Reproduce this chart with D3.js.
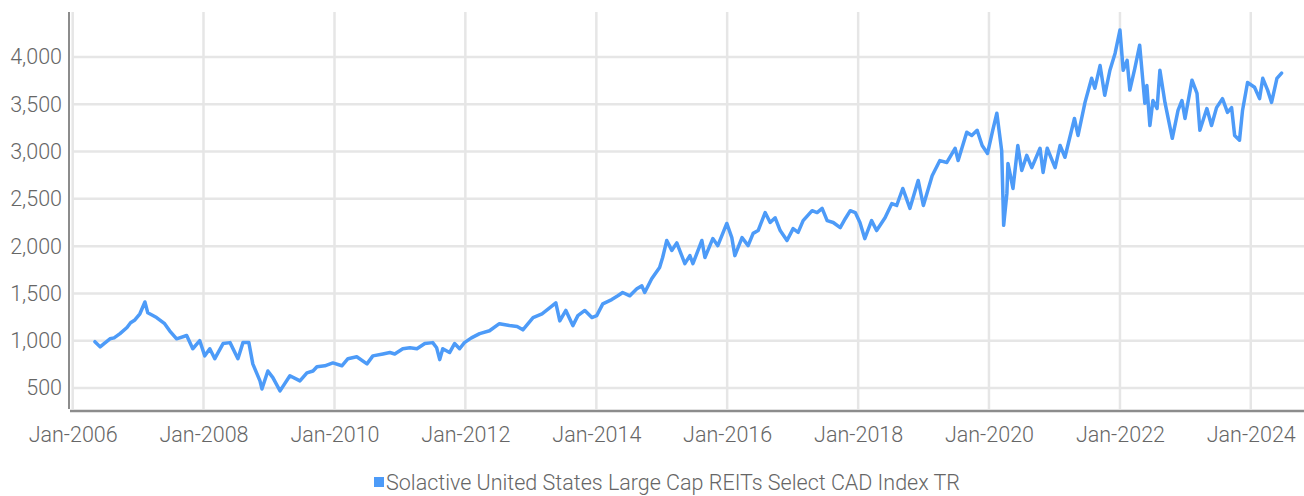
<!DOCTYPE html>
<html>
<head>
<meta charset="utf-8">
<script src="https://cdn.jsdelivr.net/npm/d3@7"></script>
<style>
  body { margin: 0; background: #fff; }
  text { font-family: Roboto, "Noto Sans", sans-serif; font-weight: 300; }
</style>
</head>
<body>
<svg id="chart" width="1304" height="496"></svg>
<script>
// index level
var dates = [
  "2006-05-05","2006-06-03","2006-06-25","2006-07-28","2006-08-20","2006-09-22","2006-10-31","2006-11-20","2006-12-14",
  "2007-01-11","2007-02-08","2007-02-24","2007-04-14","2007-05-29","2007-06-26","2007-08-04","2007-09-29","2007-11-02","2007-12-11",
  "2008-01-08","2008-02-05","2008-03-04","2008-04-19","2008-05-28","2008-07-11","2008-08-08","2008-09-10","2008-10-02","2008-11-11","2008-11-22","2008-12-25",
  "2009-01-22","2009-03-03","2009-04-27","2009-06-22","2009-07-31","2009-09-03","2009-09-25","2009-11-08","2009-12-23",
  "2010-02-11","2010-03-17","2010-05-05","2010-07-01","2010-08-03","2010-09-28","2010-11-06","2010-12-03",
  "2011-01-17","2011-02-26","2011-04-06","2011-05-20","2011-07-03","2011-07-25","2011-08-11","2011-08-28","2011-10-05","2011-11-02","2011-11-30","2011-12-27",
  "2012-02-04","2012-03-21","2012-05-15","2012-07-09","2012-09-03","2012-10-16","2012-11-17",
  "2013-01-13","2013-03-04","2013-04-17","2013-05-20","2013-06-11","2013-07-15","2013-08-23","2013-09-20","2013-10-29","2013-12-07",
  "2014-01-03","2014-02-06","2014-03-28","2014-05-01","2014-05-28","2014-07-07","2014-08-15","2014-09-12","2014-09-28","2014-11-06","2014-12-20",
  "2015-01-06","2015-01-29","2015-02-26","2015-03-26","2015-05-10","2015-06-07","2015-06-24","2015-08-13","2015-08-30","2015-10-13","2015-11-10","2015-12-30",
  "2016-01-27","2016-02-13","2016-03-24","2016-04-27","2016-05-25","2016-06-22","2016-07-31","2016-08-28","2016-09-25","2016-10-23","2016-11-30",
  "2017-01-03","2017-01-31","2017-02-28","2017-04-19","2017-05-17","2017-06-14","2017-07-12","2017-08-15","2017-09-23","2017-10-21","2017-11-18","2017-12-16",
  "2018-01-11","2018-02-07","2018-03-17","2018-04-14","2018-05-31","2018-07-08","2018-08-04","2018-09-07","2018-10-17","2018-12-02","2018-12-31",
  "2019-02-18","2019-04-02","2019-05-11","2019-06-26","2019-07-13","2019-08-30","2019-09-27","2019-10-27","2019-11-24","2019-12-24",
  "2020-01-22","2020-02-14","2020-03-12","2020-03-23","2020-04-10","2020-04-16","2020-05-14","2020-06-10","2020-07-02","2020-07-30","2020-08-27","2020-10-12","2020-10-29","2020-11-21",
  "2021-01-04","2021-02-01","2021-02-28","2021-04-22","2021-05-12","2021-06-20","2021-07-27","2021-08-14","2021-09-12","2021-10-08","2021-11-06","2021-12-05",
  "2022-01-01","2022-01-19","2022-02-10","2022-02-25","2022-03-25","2022-04-21","2022-05-20","2022-05-31","2022-06-17","2022-07-04","2022-07-27","2022-08-12","2022-09-09","2022-10-20","2022-11-21","2022-12-13","2022-12-30",
  "2023-02-07","2023-03-07","2023-03-23","2023-05-01","2023-05-27","2023-06-24","2023-07-27","2023-08-24","2023-09-16","2023-10-03","2023-10-30","2023-11-16","2023-12-14",
  "2024-01-22","2024-02-19","2024-03-08","2024-04-04","2024-04-26","2024-05-26","2024-06-21"
];
var values = [
  990,935,970,1020,1030,1075,1140,1190,1220,
  1285,1410,1295,1245,1180,1105,1020,1055,915,1000,
  840,915,810,970,980,810,980,980,755,575,490,680,
  610,470,630,575,660,680,725,735,765,
  735,810,830,755,840,860,875,860,
  915,925,915,970,980,925,800,915,875,970,915,980,
  1030,1075,1105,1180,1160,1150,1115,
  1245,1285,1350,1400,1210,1320,1160,1265,1320,1245,
  1265,1390,1435,1475,1510,1475,1550,1580,1510,1655,1775,
  1880,2060,1955,2035,1815,1900,1815,2060,1880,2080,2005,2240,
  2090,1900,2090,2005,2135,2165,2355,2250,2300,2165,2060,
  2185,2145,2270,2375,2355,2400,2270,2250,2195,2290,2375,2355,
  2250,2080,2270,2165,2300,2450,2430,2610,2400,2695,2430,
  2745,2905,2885,3035,2905,3205,3170,3225,3065,2980,
  3225,3405,3010,2220,2555,2875,2610,3065,2800,2960,2830,3035,2780,3035,
  2830,3065,2940,3350,3170,3520,3775,3670,3910,3595,3860,4040,
  4285,3860,3965,3650,3880,4125,3510,3700,3275,3540,3455,3860,3520,3140,3435,3540,3350,
  3755,3615,3225,3455,3275,3465,3560,3415,3465,3170,3120,3435,3730,
  3680,3560,3775,3650,3520,3775,3830
];
var yTicks = [500, 1000, 1500, 2000, 2500, 3000, 3500, 4000];
var seriesName = "Solactive United States Large Cap REITs Select CAD Index TR";

var lineColor = "#4d9bf8";
var parse = d3.utcParse("%Y-%m-%d");
var data = dates.map(function(d, i) { return { date: parse(d), value: values[i] }; });

var svg = d3.select("#chart");
var plotLeft = 72.7, plotRight = 1304, plotTop = 12, plotBottom = 409;
var fontSize = 21.5;

var x = d3.scaleUtc()
    .domain([Date.UTC(2006, 0, 1), Date.UTC(2024, 9, 24)])
    .range([plotLeft, plotRight]);
var y = d3.scaleLinear()
    .domain([278, 4476])
    .range([plotBottom, plotTop]);

var xTicks = x.ticks(d3.utcYear.every(2));

// grid
svg.append("g")
    .selectAll("line")
    .data(yTicks)
    .enter().append("line")
      .attr("x1", plotLeft).attr("x2", plotRight)
      .attr("y1", function(d) { return y(d); })
      .attr("y2", function(d) { return y(d); })
      .attr("stroke", "#e6e6e6")
      .attr("stroke-width", 2.5);

svg.append("g")
    .selectAll("line")
    .data(xTicks)
    .enter().append("line")
      .attr("x1", function(d) { return x(d); })
      .attr("x2", function(d) { return x(d); })
      .attr("y1", plotTop).attr("y2", plotBottom)
      .attr("stroke", "#e6e6e6")
      .attr("stroke-width", 2.5);

// axes
var yAxis = svg.append("g")
    .attr("transform", "translate(69,0)")
    .call(d3.axisLeft(y).tickValues(yTicks).tickSize(0).tickPadding(7).tickFormat(d3.format(",")));
yAxis.select(".domain").attr("d", "M0," + plotTop + "V" + plotBottom).attr("stroke", "#8c8c8c").attr("stroke-width", 2);
yAxis.selectAll("text").attr("font-size", fontSize).attr("fill", "#666").attr("font-family", "Roboto").attr("font-weight", 300);

var xAxis = svg.append("g")
    .attr("transform", "translate(0,411)")
    .call(d3.axisBottom(x).tickValues(xTicks).tickSize(0).tickPadding(16).tickFormat(d3.utcFormat("%b-%Y")));
xAxis.select(".domain").attr("d", "M70,0H" + plotRight).attr("stroke", "#8c8c8c").attr("stroke-width", 2.5);
xAxis.selectAll("text").attr("font-size", fontSize).attr("fill", "#666").attr("font-family", "Roboto").attr("font-weight", 300);

// series
var line = d3.line()
    .x(function(d) { return x(d.date); })
    .y(function(d) { return y(d.value); });

svg.append("path")
    .datum(data)
    .attr("d", line)
    .attr("fill", "none")
    .attr("stroke", lineColor)
    .attr("stroke-width", 3.5)
    .attr("stroke-linejoin", "round")
    .attr("stroke-linecap", "round");

// legend
var legend = svg.append("g").attr("transform", "translate(374,477)");
legend.append("rect").attr("width", 10).attr("height", 10).attr("fill", lineColor);
legend.append("text")
    .attr("x", 12).attr("y", 13)
    .attr("font-size", fontSize).attr("fill", "#666")
    .text(seriesName);
</script>
</body>
</html>
